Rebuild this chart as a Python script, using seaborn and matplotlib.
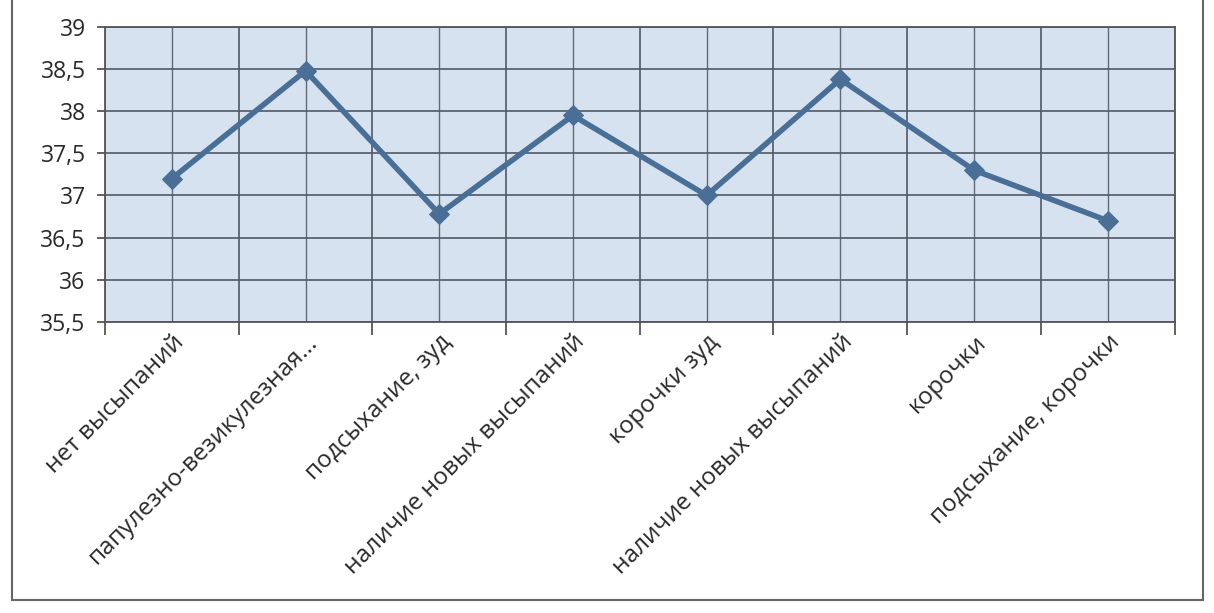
import numpy as np
import pandas as pd
import matplotlib
matplotlib.use("Agg")
import matplotlib.pyplot as plt
from matplotlib.lines import Line2D
from matplotlib.ticker import FixedLocator, FuncFormatter
import seaborn as sns

categories = [
    "нет высыпаний",
    "папулезно-везикулезная...",
    "подсыхание, зуд",
    "наличие новых высыпаний",
    "корочки зуд",
    "наличие новых высыпаний",
    "корочки",
    "подсыхание, корочки",
]
temperature = [37.2, 38.48, 36.78, 37.95, 37.0, 38.38, 37.3, 36.7]
y_ticks = [35.5, 36, 36.5, 37, 37.5, 38, 38.5, 39]

sns.set_theme(style="white")
plt.rcParams["font.family"] = ["Open Sans", "DejaVu Sans"]

fig = plt.figure(figsize=(12.14, 6.13), dpi=100)
ax = fig.add_axes([0.0865, 0.475, 0.881, 0.481])
ax.set_facecolor("#d6e2f0")

df = pd.DataFrame({"pos": np.arange(len(categories)), "t": temperature})
sns.lineplot(data=df, x="pos", y="t", ax=ax, color="#4a6f96", linewidth=4,
             marker="D", markersize=10, markeredgecolor="#4a6f96", zorder=5)

n = len(categories)
ax.set_xlim(-0.5, n - 0.5)
ax.set_ylim(35.5, 39)

ax.xaxis.set_major_locator(FixedLocator(np.arange(-0.5, n, 1.0)))
ax.xaxis.set_minor_locator(FixedLocator(np.arange(n)))
ax.set_xticklabels([""] * (n + 1))
ax.set_xticklabels(categories, minor=True, rotation=45, ha="right",
                   rotation_mode="anchor", fontsize=17.5, color="#2a2a2a")
ax.tick_params(axis="x", which="major", direction="out", length=9, width=1.3,
               color="#555555", bottom=True)
ax.tick_params(axis="x", which="minor", length=0, pad=6)

ax.set_yticks(y_ticks)
ax.yaxis.set_major_formatter(FuncFormatter(lambda v, p: f"{v:g}".replace(".", ",")))
ax.tick_params(axis="y", direction="out", length=6, width=1.3, color="#555555",
               left=True, labelsize=16.5, labelcolor="#2a2a2a", pad=8)

ax.grid(True, which="major", axis="both", color="#505a66", linewidth=1.2)
ax.grid(True, which="minor", axis="x", color="#606a76", linewidth=1.0)
ax.set_axisbelow(True)
for s in ax.spines.values():
    s.set_color("#555555")
    s.set_linewidth(1.3)

ax.set_xlabel("")
ax.set_ylabel("")

# outer chart frame (top edge lies outside the image)
fx0, fx1, fy0 = 12 / 1214, 1203 / 1214, 1 - 600 / 613
for xs, ys in [([fx0, fx0], [fy0, 1.05]), ([fx1, fx1], [fy0, 1.05]), ([fx0, fx1], [fy0, fy0])]:
    fig.add_artist(Line2D(xs, ys, transform=fig.transFigure, color="#666666", linewidth=1.5))

fig.savefig("out.png", dpi=100)
